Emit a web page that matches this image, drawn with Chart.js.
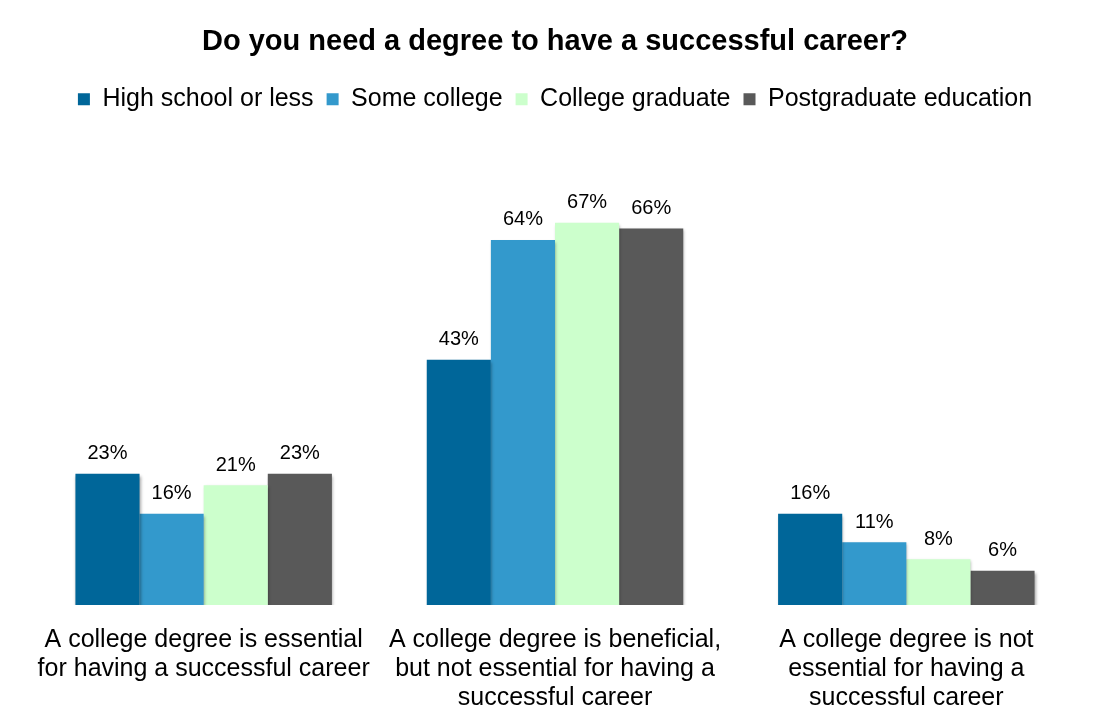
<!DOCTYPE html>
<html>
<head>
<meta charset="utf-8">
<script src="https://cdn.jsdelivr.net/npm/chart.js@4.4.0/dist/chart.umd.min.js"></script>
<style>
  html, body { margin: 0; padding: 0; background: #ffffff; }
  #wrap { width: 1109px; height: 727px; }
</style>
</head>
<body>
<div id="wrap"><canvas id="chart__1"></canvas></div>
<script>
"use strict";

// ** Data
const categories = [
  ["A college degree is essential", "for having a successful career"],
  ["A college degree is beneficial,", "but not essential for having a", "successful career"],
  ["A college degree is not", "essential for having a", "successful career"],
];
const seriesNames = ["High school or less", "Some college", "College graduate", "Postgraduate education"];
const highSchool = [23, 43, 16];
const someCollege = [16, 64, 11];
const collegeGrad = [21, 67, 8];
const postGrad = [23, 66, 6];
const seriesColors = ["#006699", "#3399cc", "#ccffcc", "#595959"];

const FONT = "'Liberation Sans', Arial, Helvetica, sans-serif";

// ** Plugins
const barShadow = {
  id: "barShadow",
  beforeDatasetsDraw: (chart) => {
    const { ctx } = chart;
    ctx.save();
    ctx.shadowColor = "rgba(0, 0, 0, 0.35)";
    ctx.shadowBlur = 3;
    ctx.shadowOffsetX = 1;
    ctx.shadowOffsetY = 2;
  },
  afterDatasetsDraw: (chart) => {
    chart.ctx.restore();
  },
};

const valueLabels = {
  id: "valueLabels",
  afterDatasetsDraw: (chart) => {
    const { ctx } = chart;
    ctx.save();
    ctx.font = `20px ${FONT}`;
    ctx.fillStyle = "#000000";
    ctx.textAlign = "center";
    ctx.textBaseline = "middle";
    chart.data.datasets.forEach((ds, i) => {
      const meta = chart.getDatasetMeta(i);
      meta.data.forEach((bar, j) => {
        ctx.fillText(`${ds.data[j]}%`, bar.x, bar.y - 20);
      });
    });
    ctx.restore();
  },
};

const bgColor = {
  id: "bgColor",
  beforeDraw: (chart) => {
    const { ctx, width, height } = chart;
    ctx.save();
    ctx.fillStyle = "#ffffff";
    ctx.fillRect(0, 0, width, height);
    ctx.restore();
  },
};

// ** Chart
const config = {
  type: "bar",
  data: {
    labels: categories,
    datasets: [highSchool, someCollege, collegeGrad, postGrad].map((vals, i) => ({
      label: seriesNames[i],
      data: vals,
      backgroundColor: seriesColors[i],
      borderWidth: 0,
      categoryPercentage: 0.73,
      barPercentage: 1.0,
    })),
  },
  options: {
    responsive: false,
    animation: false,
    devicePixelRatio: 1,
    layout: {
      padding: { left: 28, right: 27, top: 0, bottom: -7 },
    },
    plugins: {
      title: {
        display: true,
        text: "Do you need a degree to have a successful career?",
        color: "#000000",
        font: { family: FONT, size: 29, weight: "bold" },
        padding: { top: 25, bottom: 14 },
      },
      legend: {
        display: true,
        position: "top",
        labels: {
          color: "#000000",
          font: { family: FONT, size: 25 },
          boxWidth: 12,
          boxHeight: 12,
          padding: 13,
        },
      },
      tooltip: { enabled: false },
    },
    scales: {
      x: {
        grid: { display: false, drawTicks: false },
        border: { display: false },
        ticks: {
          color: "#000000",
          font: { family: FONT, size: 25, lineHeight: 1.16 },
          padding: 21,
          maxRotation: 0,
          autoSkip: false,
        },
      },
      y: {
        display: false,
        min: 0,
        max: 84.7,
      },
    },
  },
  plugins: [bgColor, barShadow, valueLabels],
};

const canvas = document.getElementById("chart__1");
canvas.width = 1109;
canvas.height = 727;
const chart = new Chart(canvas.getContext("2d"), config);
</script>
</body>
</html>
